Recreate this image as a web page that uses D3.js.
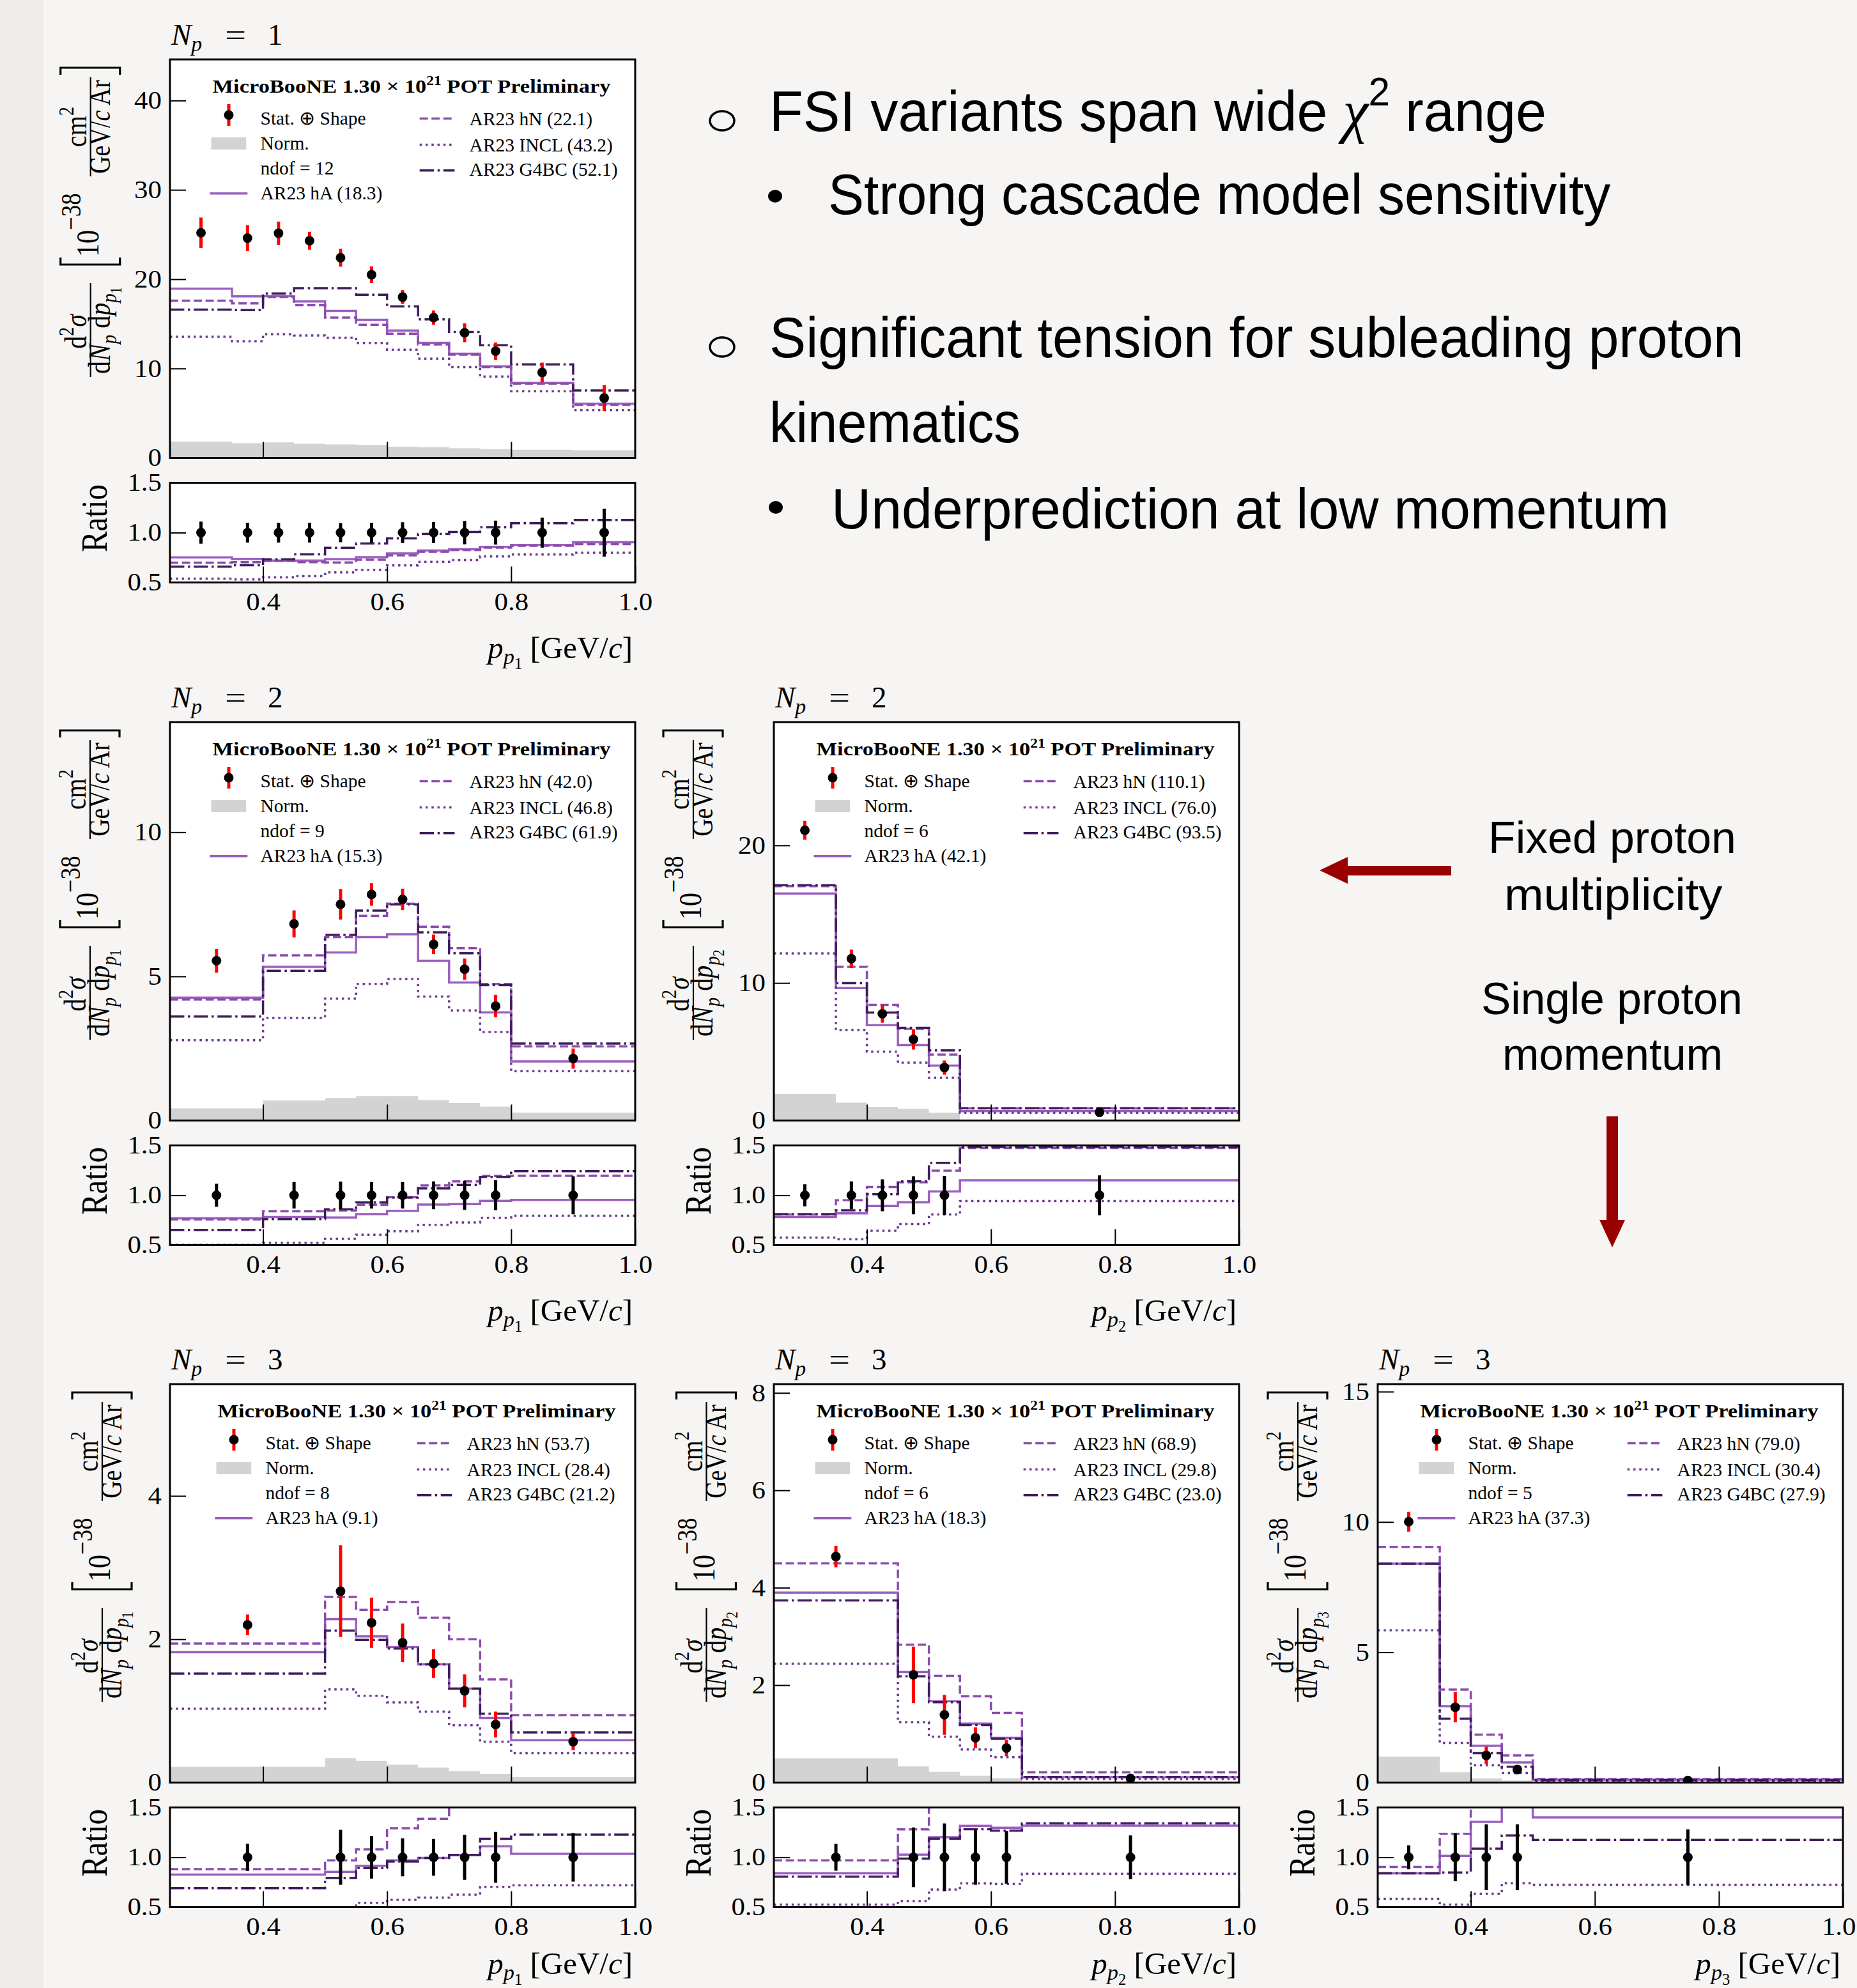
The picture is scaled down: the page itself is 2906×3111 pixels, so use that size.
<!DOCTYPE html>
<html><head><meta charset="utf-8">
<script src="https://cdn.jsdelivr.net/npm/d3@7"></script>
<style>body{margin:0;background:#f6f5f3;} svg{display:block}</style>
</head><body><svg id="c" width="2906" height="3111"></svg>
<script>
// ================= DATA =================
const xTickVals = [0.4, 0.6, 0.8, 1.0];
const ratioTickVals = [0.5, 1.0, 1.5];
const modelNames = ["AR23 hA", "AR23 hN", "AR23 INCL", "AR23 G4BC"];

// Np = 1, leading proton momentum
const np1p1Edges = [0.25,0.35,0.40,0.45,0.50,0.55,0.60,0.65,0.70,0.75,0.80,0.90,1.00];
const np1p1Data  = [25.2,24.6,25.15,24.3,22.4,20.5,18.0,15.7,14.0,11.95,9.56,6.7];
const np1p1Err   = [1.7,1.45,1.3,1.0,1.0,0.93,0.77,0.8,1.05,0.97,1.1,1.45];
const np1p1RErr  = [0.11,0.10,0.10,0.10,0.096,0.10,0.104,0.106,0.117,0.12,0.15,0.24];
const np1p1Norm  = [1.83,1.64,1.74,1.57,1.5,1.44,1.25,1.18,1.08,0.98,0.92,0.85];
const np1p1HA    = [18.93,18.08,18.1,17.5,16.45,15.45,14.25,12.87,11.66,10.25,8.38,6.06];
const np1p1HN    = [17.6,17.3,18.0,17.1,15.7,14.9,13.9,12.7,11.56,10.15,8.3,5.93];
const np1p1INCL  = [13.55,13.05,13.85,13.7,13.45,12.85,12.1,11.1,10.15,9.1,7.46,5.35];
const np1p1G4BC  = [16.6,16.55,18.4,19.0,19.0,18.25,16.95,15.5,14.1,12.6,10.47,7.55];
const np1p1Chi2  = [18.3,22.1,43.2,52.1];

// Np = 2, leading proton momentum
const np2p1Edges = [0.25,0.40,0.50,0.55,0.60,0.65,0.70,0.75,0.80,1.00];
const np2p1Data  = [5.54,6.82,7.50,7.84,7.67,6.11,5.25,3.97,2.15];
const np2p1Err   = [0.41,0.47,0.53,0.39,0.37,0.34,0.37,0.39,0.35];
const np2p1RErr  = [0.115,0.133,0.138,0.133,0.133,0.14,0.146,0.15,0.19];
const np2p1Norm  = [0.42,0.69,0.78,0.85,0.85,0.71,0.61,0.48,0.27];
const np2p1HA    = [4.26,5.33,5.83,6.36,6.46,5.54,4.79,3.75,2.05];
const np2p1HN    = [4.2,5.73,6.36,7.1,7.52,6.72,5.98,4.74,2.57];
const np2p1INCL  = [2.79,3.56,4.23,4.74,4.91,4.3,3.82,3.07,1.71];
const np2p1G4BC  = [3.61,5.19,6.44,7.28,7.5,6.53,5.8,4.7,2.67];
const np2p1Chi2  = [15.3,42.0,46.8,61.9];

// Np = 2, subleading proton momentum
const np2p2Edges = [0.25,0.35,0.40,0.45,0.50,0.55,1.00];
const np2p2Data  = [21.1,11.76,7.76,5.9,3.85,0.60];
const np2p2Err   = [0.68,0.67,0.65,0.74,0.52,0.1];
const np2p2RErr  = [0.11,0.14,0.16,0.19,0.195,0.2];
const np2p2Norm  = [1.93,1.3,1.0,0.86,0.56,0.05];
const np2p2HA    = [16.5,9.63,6.93,5.48,4.0,0.69];
const np2p2HN    = [17.04,11.17,8.41,6.67,4.8,0.885];
const np2p2INCL  = [12.15,6.58,5.0,4.2,3.11,0.565];
const np2p2G4BC  = [17.1,9.99,7.85,6.73,5.1,0.89];
const np2p2Chi2  = [42.1,110.1,76.0,93.5];

// Np = 3, leading proton momentum
const np3p1Edges = [0.25,0.50,0.55,0.60,0.65,0.70,0.75,0.80,1.00];
const np3p1Data  = [2.2,2.67,2.23,1.95,1.66,1.28,0.81,0.57];
const np3p1Err   = [0.145,0.64,0.35,0.27,0.2,0.23,0.18,0.12];
const np3p1RErr  = [0.137,0.276,0.213,0.19,0.184,0.226,0.255,0.243];
const np3p1Norm  = [0.22,0.34,0.3,0.25,0.21,0.16,0.12,0.075];
const np3p1HA    = [1.82,2.28,2.04,1.89,1.65,1.31,0.9,0.59];
const np3p1HN    = [1.94,2.59,2.41,2.52,2.3,2.0,1.44,0.94];
const np3p1INCL  = [1.03,1.3,1.21,1.12,0.99,0.8,0.57,0.41];
const np3p1G4BC  = [1.52,2.12,1.99,1.87,1.65,1.31,0.96,0.7];
const np3p1Chi2  = [9.1,53.7,28.4,21.2];

// Np = 3, second proton momentum
const np3p2Edges = [0.25,0.45,0.50,0.55,0.60,0.65,1.00];
const np3p2Data  = [4.64,2.21,1.39,0.92,0.71,0.085];
const np3p2Err   = [0.22,0.58,0.41,0.21,0.17,0.02];
const np3p2RErr  = [0.135,0.3,0.34,0.275,0.265,0.22];
const np3p2Norm  = [0.5,0.33,0.22,0.14,0.09,0.02];
const np3p2HA    = [3.9,2.27,1.67,1.21,0.92,0.112];
const np3p2HN    = [4.5,2.83,2.19,1.77,1.43,0.21];
const np3p2INCL  = [2.44,1.24,0.94,0.68,0.52,0.071];
const np3p2G4BC  = [3.74,2.18,1.65,1.18,0.9,0.114];
const np3p2Chi2  = [18.3,68.9,29.8,23.0];

// Np = 3, third proton momentum
const np3p3Edges = [0.25,0.35,0.40,0.45,0.50,1.00];
const np3p3Data  = [10.01,2.89,1.04,0.5,0.08];
const np3p3Err   = [0.38,0.58,0.34,0.15,0.02];
const np3p3RErr  = [0.12,0.24,0.33,0.33,0.28];
const np3p3Norm  = [1.0,0.4,0.16,0.08,0.02];
const np3p3HA    = [8.4,2.93,1.41,0.77,0.112];
const np3p3HN    = [9.04,3.57,1.84,1.04,0.14];
const np3p3INCL  = [5.84,1.52,0.66,0.37,0.058];
const np3p3G4BC  = [8.4,2.45,1.13,0.61,0.094];
const np3p3Chi2  = [37.3,79.0,30.4,27.9];

const bulletLines = [
  "FSI variants span wide",
  "Strong cascade model sensitivity",
  "Significant tension for subleading proton",
  "kinematics",
  "Underprediction at low momentum"
];
const sideNotes = ["Fixed proton", "multiplicity", "Single proton", "momentum"];

// ================= STYLE / LAYOUT =================
const SERIF = "'Liberation Serif','Times New Roman',serif";
const SANS = "'Liberation Sans',Arial,sans-serif";
const PW = 728, MH = 623.5, GAP = 39, RH = 156;
const modelColors = ["#9b5fc0", "#8b4cad", "#6c3a90", "#3e1d5b"];
const LW = 3.5;
const modelDash = [null, `${3.7*LW},${1.6*LW}`, `${1*LW},${1.65*LW}`, `${6.4*LW},${1.6*LW},${1*LW},${1.6*LW}`];

const panels = [
  {left:266, top:93, np:1, idx:1, ymax:44.6, yticks:[0,10,20,30,40], edges:np1p1Edges, data:np1p1Data, err:np1p1Err, rerr:np1p1RErr, norm:np1p1Norm, models:[np1p1HA,np1p1HN,np1p1INCL,np1p1G4BC], chi2:np1p1Chi2, ylabDx:-124.3, leg:[0,0,0], xlabDy:118},
  {left:266, top:1130, np:2, idx:1, ymax:13.82, yticks:[0,5,10], edges:np2p1Edges, data:np2p1Data, err:np2p1Err, rerr:np2p1RErr, norm:np2p1Norm, models:[np2p1HA,np2p1HN,np2p1INCL,np2p1G4BC], chi2:np2p1Chi2, ylabDx:-125, leg:[0,0,0], xlabDy:118},
  {left:1211, top:1130, np:2, idx:2, ymax:28.96, yticks:[0,10,20], edges:np2p2Edges, data:np2p2Data, err:np2p2Err, rerr:np2p2RErr, norm:np2p2Norm, models:[np2p2HA,np2p2HN,np2p2INCL,np2p2G4BC], chi2:np2p2Chi2, ylabDx:-126, leg:[0,0,0], xlabDy:118},
  {left:266, top:2166, np:3, idx:1, ymax:5.56, yticks:[0,2,4], edges:np3p1Edges, data:np3p1Data, err:np3p1Err, rerr:np3p1RErr, norm:np3p1Norm, models:[np3p1HA,np3p1HN,np3p1INCL,np3p1G4BC], chi2:np3p1Chi2, ylabDx:-106, leg:[8,8,-4], xlabDy:104},
  {left:1211, top:2166, np:3, idx:2, ymax:8.18, yticks:[0,2,4,6,8], edges:np3p2Edges, data:np3p2Data, err:np3p2Err, rerr:np3p2RErr, norm:np3p2Norm, models:[np3p2HA,np3p2HN,np3p2INCL,np3p2G4BC], chi2:np3p2Chi2, ylabDx:-105.5, leg:[0,0,0], xlabDy:104},
  {left:2156, top:2166, np:3, idx:3, ymax:15.29, yticks:[0,5,10,15], edges:np3p3Edges, data:np3p3Data, err:np3p3Err, rerr:np3p3RErr, norm:np3p3Norm, models:[np3p3HA,np3p3HN,np3p3INCL,np3p3G4BC], chi2:np3p3Chi2, ylabDx:-125, leg:[0,0,0], xlabDy:104}
];

const svg = d3.select("#c");
svg.append("rect").attr("width",2906).attr("height",3111).attr("fill","#f6f5f3");
svg.append("rect").attr("width",68).attr("height",3111).attr("fill","#edecea");

// rich text helper: parts with baseline offsets (em of base size, + = down)
function rich(sel, parts, size) {
  let cur = 0;
  parts.forEach(p => {
    const off = p.off || 0;
    const ts = sel.append("tspan").text(p.t)
      .attr("dy", ((off - cur) * size).toFixed(2))
      .style("font-size", ((p.s || 1) * size).toFixed(2) + "px");
    if (p.i) ts.style("font-style", "italic");
    if (p.f) ts.style("font-family", p.f);
    cur = off;
  });
  return sel;
}
function fitX(sel, x0, width) {
  const bb = sel.node().getBBox();
  const s = width / bb.width;
  sel.attr("transform", `translate(${x0},0) scale(${s},1) translate(${-bb.x},0)`);
}
// text placed at (x,y) in a (possibly rotated) frame, stretched by ky perpendicular to the text
function rtext(parent, x, y, anchor, parts, size, ky) {
  const t = parent.append("g").attr("transform", `translate(${x},${y}) scale(1,${ky})`)
    .append("text").attr("x",0).attr("y",0).attr("text-anchor",anchor).style("font-family",SERIF).attr("fill","#000");
  rich(t, parts, size);
  return t;
}

let clipId = 0;
function drawPanel(P) {
  const g = svg.append("g");
  const L = P.left, T = P.top, R = L + PW, B = T + MH;
  const rTop = B + GAP, rBot = rTop + RH;
  const x = d3.scaleLinear().domain([0.25, 1.0]).range([L, R]);
  const y = d3.scaleLinear().domain([0, P.ymax]).range([B, T]);
  const yr = d3.scaleLinear().domain([0.5, 1.5]).range([rBot, rTop]);

  g.append("rect").attr("x",L).attr("y",T).attr("width",PW).attr("height",MH).attr("fill","#fff");
  g.append("rect").attr("x",L).attr("y",rTop).attr("width",PW).attr("height",RH).attr("fill","#fff");

  const cm = "clip" + (clipId++), cr = "clip" + (clipId++);
  const defs = g.append("defs");
  defs.append("clipPath").attr("id",cm).append("rect").attr("x",L).attr("y",T).attr("width",PW).attr("height",MH);
  defs.append("clipPath").attr("id",cr).append("rect").attr("x",L).attr("y",rTop).attr("width",PW).attr("height",RH);

  const stepPts = vals => { const p = vals.map((v,i)=>[P.edges[i], v]); p.push([P.edges[P.edges.length-1], vals[vals.length-1]]); return p; };
  const mainG = g.append("g").attr("clip-path", `url(#${cm})`);
  const ratG = g.append("g").attr("clip-path", `url(#${cr})`);

  // norm band
  mainG.append("path").datum(stepPts(P.norm))
    .attr("d", d3.area().x(d=>x(d[0])).y0(y(0)).y1(d=>y(d[1])).curve(d3.curveStepAfter))
    .attr("fill", "#d3d3d3");

  const lineM = d3.line().x(d=>x(d[0])).y(d=>y(d[1])).curve(d3.curveStepAfter);
  const lineR = d3.line().x(d=>x(d[0])).y(d=>yr(d[1])).curve(d3.curveStepAfter);
  P.models.forEach((m, k) => {
    const pm = mainG.append("path").datum(stepPts(m)).attr("d", lineM)
      .attr("fill","none").attr("stroke", modelColors[k]).attr("stroke-width", LW);
    const ratio = m.map((v,i)=>v / P.data[i]);
    const pr = ratG.append("path").datum(stepPts(ratio)).attr("d", lineR)
      .attr("fill","none").attr("stroke", modelColors[k]).attr("stroke-width", LW);
    if (modelDash[k]) { pm.attr("stroke-dasharray", modelDash[k]); pr.attr("stroke-dasharray", modelDash[k]); }
  });

  // data points
  const centers = P.data.map((v,i)=>(P.edges[i]+P.edges[i+1])/2);
  P.data.forEach((v,i)=>{
    mainG.append("line").attr("x1",x(centers[i])).attr("x2",x(centers[i]))
      .attr("y1",y(v-P.err[i])).attr("y2",y(v+P.err[i])).attr("stroke","#ff0000").attr("stroke-width",5);
    mainG.append("circle").attr("cx",x(centers[i])).attr("cy",y(v)).attr("r",7.5).attr("fill","#000");
    ratG.append("line").attr("x1",x(centers[i])).attr("x2",x(centers[i]))
      .attr("y1",yr(1-P.rerr[i])).attr("y2",yr(1+P.rerr[i])).attr("stroke","#000").attr("stroke-width",5);
    ratG.append("circle").attr("cx",x(centers[i])).attr("cy",yr(1)).attr("r",7.5).attr("fill","#000");
  });

  // axes
  const styleAxis = (ag, kind) => {
    ag.select(".domain").remove();
    ag.selectAll(".tick line").attr("stroke","#000").attr("stroke-width",2);
    ag.selectAll(".tick text").style("font-family",SERIF).style("font-size","39px").attr("fill","#000");
    if (kind === "left") ag.selectAll(".tick text").attr("x", -13/1.1).attr("transform","scale(1.1,1)");
    if (kind === "bottom") {
      ag.selectAll(".tick text").attr("transform","scale(1.1,1)");
      // keep the last label inside the picture
      ag.selectAll(".tick").each(function(d){
        const t = d3.select(this).select("text");
        const w = t.node().getBBox().width * 1.1;
        const over = x(d) + w/2 - 2904;
        if (over > 0) t.attr("x", -over/1.1);
      });
    }
  };
  g.append("g").attr("transform",`translate(${L},0)`)
    .call(d3.axisLeft(y).tickValues(P.yticks).tickSize(-25).tickPadding(13).tickFormat(d3.format("d")))
    .call(a=>styleAxis(a,"left"));
  g.append("g").attr("transform",`translate(0,${B})`)
    .call(d3.axisBottom(x).tickValues([0.4,0.6,0.8]).tickSize(-25).tickFormat(""))
    .call(a=>styleAxis(a,"none"));
  g.append("g").attr("transform",`translate(${L},0)`)
    .call(d3.axisLeft(yr).tickValues(ratioTickVals).tickSize(-25).tickPadding(13).tickFormat(d3.format(".1f")))
    .call(a=>styleAxis(a,"left"));
  g.append("g").attr("transform",`translate(0,${rBot})`)
    .call(d3.axisBottom(x).tickValues(xTickVals).tickSize(-25).tickPadding(16).tickFormat(d3.format(".1f")))
    .call(a=>styleAxis(a,"bottom"));

  // frames
  g.append("rect").attr("x",L).attr("y",T).attr("width",PW).attr("height",MH).attr("fill","none").attr("stroke","#000").attr("stroke-width",3);
  g.append("rect").attr("x",L).attr("y",rTop).attr("width",PW).attr("height",RH).attr("fill","none").attr("stroke","#000").attr("stroke-width",3);

  // Np title
  const tt = g.append("text").attr("x", L+2).attr("y", T-23.4).style("font-family",SERIF).attr("fill","#000");
  rich(tt, [{t:"N", i:true}, {t:"p", i:true, s:0.72, off:0.22}], 47);
  g.append("text").attr("x", L+86).attr("y", T-23.4).style("font-family",SERIF).style("font-size","47px").attr("transform",`translate(${-(L+86)*0.25},0) scale(1.25,1)`).text("=");
  g.append("text").attr("x", L+153).attr("y", T-23.4).style("font-family",SERIF).style("font-size","47px").text(P.np);

  // x label
  const xl = g.append("text").attr("x", R-4).attr("y", rBot+P.xlabDy).attr("text-anchor","end").style("font-family",SERIF).attr("fill","#000");
  rich(xl, [{t:"p", i:true}, {t:"p", i:true, s:0.7, off:0.2}, {t:String(P.idx), s:0.5, off:0.35}, {t:" [GeV/", off:0}, {t:"c", i:true}, {t:"]"}], 49);

  // Ratio label
  const rl = g.append("g").attr("transform",`translate(${L},${rTop}) rotate(-90)`);
  rtext(rl, -55.5, -99, "middle", [{t:"Ratio"}], 49, 1.15);

  // y label (rotated)
  const cx = L + P.ylabDx;
  const Y = g.append("g").attr("transform",`translate(${cx},${T}) rotate(-90)`);
  const sw = 2.2, KY = 1.2;
  Y.append("line").attr("x1",-497).attr("x2",-350).attr("y1",0).attr("y2",0).attr("stroke","#000").attr("stroke-width",sw);
  rtext(Y, -426, -7, "middle", [{t:"d"},{t:"2", s:0.7, off:-0.42},{t:"σ", i:true, off:0}], 40, KY);
  rtext(Y, -424, 30, "middle",
    [{t:"d"},{t:"N", i:true},{t:"p", i:true, s:0.72, off:0.22},{t:" d", off:0},{t:"p", i:true},{t:"p", i:true, s:0.72, off:0.22},{t:String(P.idx), s:0.52, off:0.38}], 40, KY);
  const brk = (u, dir) => `M${u+11*dir},-47 L${u},-47 L${u},46 L${u+11*dir},46`;
  Y.append("path").attr("d", brk(-321, 1)).attr("fill","none").attr("stroke","#000").attr("stroke-width",3.2);
  Y.append("path").attr("d", brk(-13, -1)).attr("fill","none").attr("stroke","#000").attr("stroke-width",3.2);
  rtext(Y, -309, 12, "start", [{t:"10"},{t:"−38", s:0.88, off:-0.55}], 42, KY);
  Y.append("line").attr("x1",-183).attr("x2",-28).attr("y1",0).attr("y2",0).attr("stroke","#000").attr("stroke-width",sw);
  rtext(Y, -105.5, -7, "middle", [{t:"cm"},{t:"2", s:0.7, off:-0.42}], 40, KY);
  rtext(Y, -105.5, 30, "middle", [{t:"GeV/"},{t:"c", i:true},{t:" Ar"}], 38, KY);

  // legend
  const [dT, dLc, dRc] = P.leg;
  const lg = g.append("g").style("font-family",SERIF).attr("fill","#000");
  const ttl = lg.append("text").attr("y", T+52).style("font-weight","bold");
  rich(ttl, [{t:"MicroBooNE 1.30 × 10"},{t:"21", s:0.68, off:-0.4},{t:" POT Preliminary", off:0}], 30);
  fitX(ttl, L+66.6+dT, 623);
  const FS = "29.5px";
  lg.append("line").attr("x1",L+92+dLc).attr("x2",L+92+dLc).attr("y1",T+70).attr("y2",T+104).attr("stroke","#ff0000").attr("stroke-width",5);
  lg.append("circle").attr("cx",L+92+dLc).attr("cy",T+87).attr("r",7.5).attr("fill","#000");
  lg.append("text").attr("x",L+141.5+dLc).attr("y",T+102).style("font-size",FS).text("Stat. ⊕ Shape");
  lg.append("rect").attr("x",L+64.5+dLc).attr("y",T+122).attr("width",54.7).attr("height",19).attr("fill","#d3d3d3");
  lg.append("text").attr("x",L+141.5+dLc).attr("y",T+141).style("font-size",FS).text("Norm.");
  lg.append("text").attr("x",L+141.5+dLc).attr("y",T+180).style("font-size",FS).text("ndof = " + P.data.length);
  lg.append("line").attr("x1",L+62.4+dLc).attr("x2",L+121.3+dLc).attr("y1",T+209.7).attr("y2",T+209.7).attr("stroke",modelColors[0]).attr("stroke-width",LW);
  lg.append("text").attr("x",L+141.5+dLc).attr("y",T+219).style("font-size",FS).text(`${modelNames[0]} (${P.chi2[0].toFixed(1)})`);
  const ry = [92.5, 133.5, 173.7], rty = [103, 143.5, 182];
  [1,2,3].forEach((k,j)=>{
    const ln = lg.append("line").attr("x1",L+390.7+dRc).attr("x2",L+445.4+dRc).attr("y1",T+ry[j]).attr("y2",T+ry[j])
      .attr("stroke",modelColors[k]).attr("stroke-width",LW);
    if (modelDash[k]) ln.attr("stroke-dasharray", modelDash[k]);
    lg.append("text").attr("x",L+468.6+dRc).attr("y",T+rty[j]).style("font-size",FS).text(`${modelNames[k]} (${P.chi2[k].toFixed(1)})`);
  });
}
panels.forEach(drawPanel);

// ================= RIGHT-SIDE TEXT =================
const tg = svg.append("g").style("font-family",SANS).attr("fill","#000");
function sideText(parts, x0, x1, yb, size) {
  const t = tg.append("text").attr("x",0).attr("y",yb);
  rich(t, parts, size);
  fitX(t, x0, x1 - x0);
  return t;
}
const ring = (cx, cy) => tg.append("ellipse").attr("cx",cx).attr("cy",cy).attr("rx",19).attr("ry",15).attr("fill","none").attr("stroke","#000").attr("stroke-width",3.5);
const dot = (cx, cy) => tg.append("ellipse").attr("cx",cx).attr("cy",cy).attr("rx",11).attr("ry",10).attr("fill","#000");
ring(1130, 189); ring(1130, 543);
dot(1213, 307); dot(1214, 794);
sideText([{t: bulletLines[0] + " "}, {t:"χ", i:true, f:SERIF, s:1.05}, {t:"2", s:0.7, off:-0.45}, {t:" range", off:0}], 1204, 2420, 205, 89);
sideText([{t: bulletLines[1]}], 1296, 2521, 335, 89);
sideText([{t: bulletLines[2]}], 1204, 2729, 559, 89);
sideText([{t: bulletLines[3]}], 1204, 1597, 692, 89);
sideText([{t: bulletLines[4]}], 1301, 2612, 827, 89);

sideText([{t: sideNotes[0]}], 2329, 2717, 1335, 71);
sideText([{t: sideNotes[1]}], 2354, 2696, 1424, 71);
sideText([{t: sideNotes[2]}], 2318, 2727, 1587, 71);
sideText([{t: sideNotes[3]}], 2351, 2696, 1674, 71);

// arrows
svg.append("polygon").attr("fill","#990000")
  .attr("points","2065,1362 2109,1341 2109,1355 2271,1355 2271,1370 2109,1370 2109,1383");
svg.append("polygon").attr("fill","#990000")
  .attr("points","2514,1747 2532,1747 2532,1909 2543,1909 2523,1952 2503,1909 2514,1909");
</script></body></html>
